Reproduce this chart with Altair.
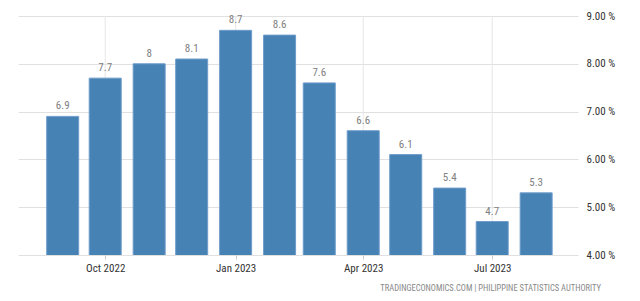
import altair as alt
import pandas as pd

# Philippines inflation rate, monthly (%)
months = ["2022-09-01", "2022-10-01", "2022-11-01", "2022-12-01",
          "2023-01-01", "2023-02-01", "2023-03-01", "2023-04-01",
          "2023-05-01", "2023-06-01", "2023-07-01", "2023-08-01"]
rates = [6.9, 7.7, 8.0, 8.1, 8.7, 8.6, 7.6, 6.6, 6.1, 5.4, 4.7, 5.3]
labels = ["6.9", "7.7", "8", "8.1", "8.7", "8.6", "7.6", "6.6", "6.1", "5.4", "4.7", "5.3"]
quarter_ticks = ["2022-10-01", "2023-01-01", "2023-04-01", "2023-07-01"]
y_ticks = [4, 5, 6, 7, 8, 9]
source_note = "TRADINGECONOMICS.COM  |  PHILIPPINE  STATISTICS  AUTHORITY"

df = pd.DataFrame({"date": months, "rate": rates, "label": labels})
ticks_df = pd.DataFrame({"date": quarter_ticks})

FONT = "Liberation Sans Narrow, Roboto Condensed, Liberation Sans, sans-serif"

x_scale = alt.Scale(
    type="utc",
    domain=[alt.DateTime(year=2022, month=8, date=4, utc=True),
            alt.DateTime(year=2023, month=8, date=27, utc=True)],
)

x_enc = alt.X(
    "date:T",
    scale=x_scale,
    axis=alt.Axis(
        title=None,
        values=[alt.DateTime(year=2022, month=10, date=1, utc=True),
                alt.DateTime(year=2023, month=1, date=1, utc=True),
                alt.DateTime(year=2023, month=4, date=1, utc=True),
                alt.DateTime(year=2023, month=7, date=1, utc=True)],
        format="%b %Y",
        labelFont=FONT,
        labelFontSize=11,
        labelColor="#333333",
        labelPadding=3,
        tickSize=4,
        tickColor="#cccccc",
        domain=False,
        grid=False,
    ),
)

y_enc = alt.Y(
    "rate:Q",
    scale=alt.Scale(domain=[4, 9], nice=False, zero=False),
    axis=alt.Axis(
        title=None,
        orient="right",
        values=y_ticks,
        labelExpr="format(datum.value, '.2f') + ' %'",
        labelFont=FONT,
        labelFontSize=11,
        labelColor="#333333",
        labelPadding=8,
        ticks=False,
        domain=False,
        grid=True,
        gridColor="#e0e0e0",
    ),
)

# vertical guides at the quarterly labels, drawn beneath the bars
vgrid = alt.Chart(ticks_df).mark_rule(color="#e6e6e6", strokeWidth=1).encode(
    x=x_enc
)

bars = alt.Chart(df).mark_bar(
    size=32, color="#4682b4", stroke="#6e9ccb", strokeWidth=1, clip=True
).encode(x=x_enc, y=y_enc)

values = alt.Chart(df).mark_text(
    baseline="bottom", dy=-5, font=FONT, fontSize=11, color="#808080"
).encode(x="date:T", y="rate:Q", text="label:N")

note = alt.Chart(pd.DataFrame({"t": [source_note]})).mark_text(
    align="right", baseline="middle", font=FONT, fontSize=8.5, color="#888888",
).encode(x=alt.value(583), y=alt.value(272), text="t:N")

chart = (
    alt.layer(vgrid, bars, values, note)
    .properties(
        width=560,
        height=239,
        background="white",
        autosize=alt.AutoSizeParams(type="none"),
        padding={"left": 18, "top": 16, "right": 62, "bottom": 46},
    )
    .configure_view(strokeWidth=0, stroke="transparent")
)

chart.save("out.html", embed_options={"renderer": "svg", "actions": False})
